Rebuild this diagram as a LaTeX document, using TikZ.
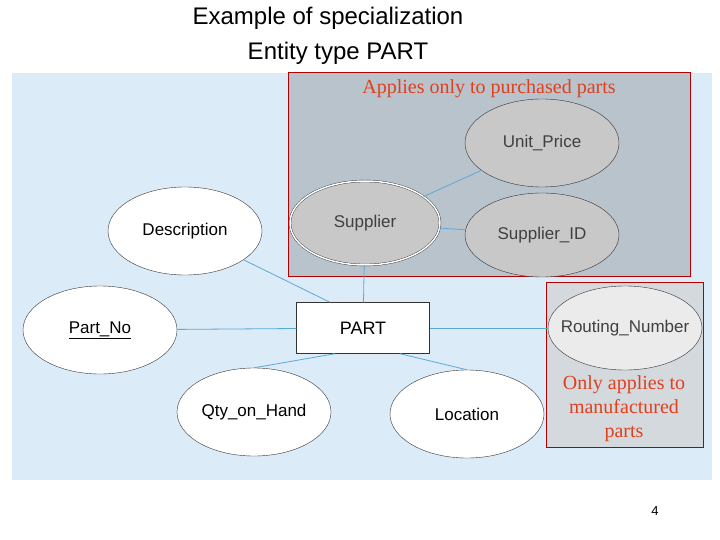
\documentclass[tikz,border=0pt]{standalone}
\usepackage{fontspec}
\setmainfont{Liberation Sans}
\newfontfamily\serifrm{Liberation Serif}
\usetikzlibrary{shapes.geometric}
\definecolor{panel}{HTML}{DCEBF8}
\definecolor{greybox}{HTML}{B9C3CC}
\definecolor{rbox}{HTML}{D4D9DE}
\definecolor{ell}{HTML}{C8C8C8}
\definecolor{conn}{HTML}{5AAAD6}
\definecolor{redt}{HTML}{E0401E}
\begin{document}
\begin{tikzpicture}[x=1pt,y=-1pt,
 attr/.style={ellipse,draw=black!80,fill=white,minimum width=154pt,minimum height=88pt,inner sep=0pt,text width=40pt,align=center,font=\fontsize{17}{20}\selectfont},
 gattr/.style={attr,fill=ell,text=black!75},
 con/.style={draw=conn,line width=0.8pt},
 note/.style={font=\serifrm\fontsize{20}{24}\selectfont,text=redt,align=center}]
\useasboundingbox (0,0) rectangle (720,540);
\fill[white] (0,0) rectangle (720,540);
\fill[panel] (12,73) rectangle (712,480);
\filldraw[fill=greybox,draw=red!70!black] (288,72) rectangle (690,276);
\filldraw[fill=rbox,draw=red!70!black] (546,282) rectangle (703,447);
\node[font=\fontsize{24}{28}\selectfont] (t1) at (328,18) {Example of specialization};
\node[font=\fontsize{24}{28}\selectfont] (t2) at (338,53) {Entity type PART};
\node[note] (n1) at (489,89) {Applies only to purchased parts};
\node[note] (n2) at (624,409) {Only applies to\\manufactured\\parts};
\node[font=\fontsize{13}{15}\selectfont] (pg) at (655,511) {4};
\node[draw=black!80,fill=white,minimum width=133pt,minimum height=51pt,font=\fontsize{18}{22}\selectfont] (part) at (363,328) {PART};
\node[attr] (desc) at (185,231) {\makebox[0pt]{Description}};
\node[attr] (pno) at (100,330) {\makebox[0pt]{\underline{Part\_No}}};
\node[attr] (qty) at (254,412) {\makebox[0pt]{Qty\_on\_Hand}};
\node[attr] (loc) at (467,414) {\makebox[0pt]{Location}};
\node[gattr,minimum width=150pt,minimum height=84pt,double,double distance=1.5pt] (sup) at (365,223) {\makebox[0pt]{Supplier}};
\node[gattr] (up) at (542,143) {\makebox[0pt]{Unit\_Price}};
\node[gattr,minimum height=84pt] (sid) at (542,235) {\makebox[0pt]{Supplier\_ID}};
\node[gattr,fill=black!8,minimum height=84pt] (rn) at (625,328) {\makebox[0pt]{Routing\_Number}};
\draw[con] (desc) -- (part.north west -| 330,302);
\draw[con] (sup) -- (part);
\draw[con] (pno) -- (part);
\draw[con] (part) -- (rn);
\draw[con] (qty.north) -- (part.south west -| 335,353);
\draw[con] (loc.north) -- (part.south east -| 400,353);
\draw[con] (sup) -- (up);
\draw[con] (sup) -- (sid);
\end{tikzpicture}
\end{document}
